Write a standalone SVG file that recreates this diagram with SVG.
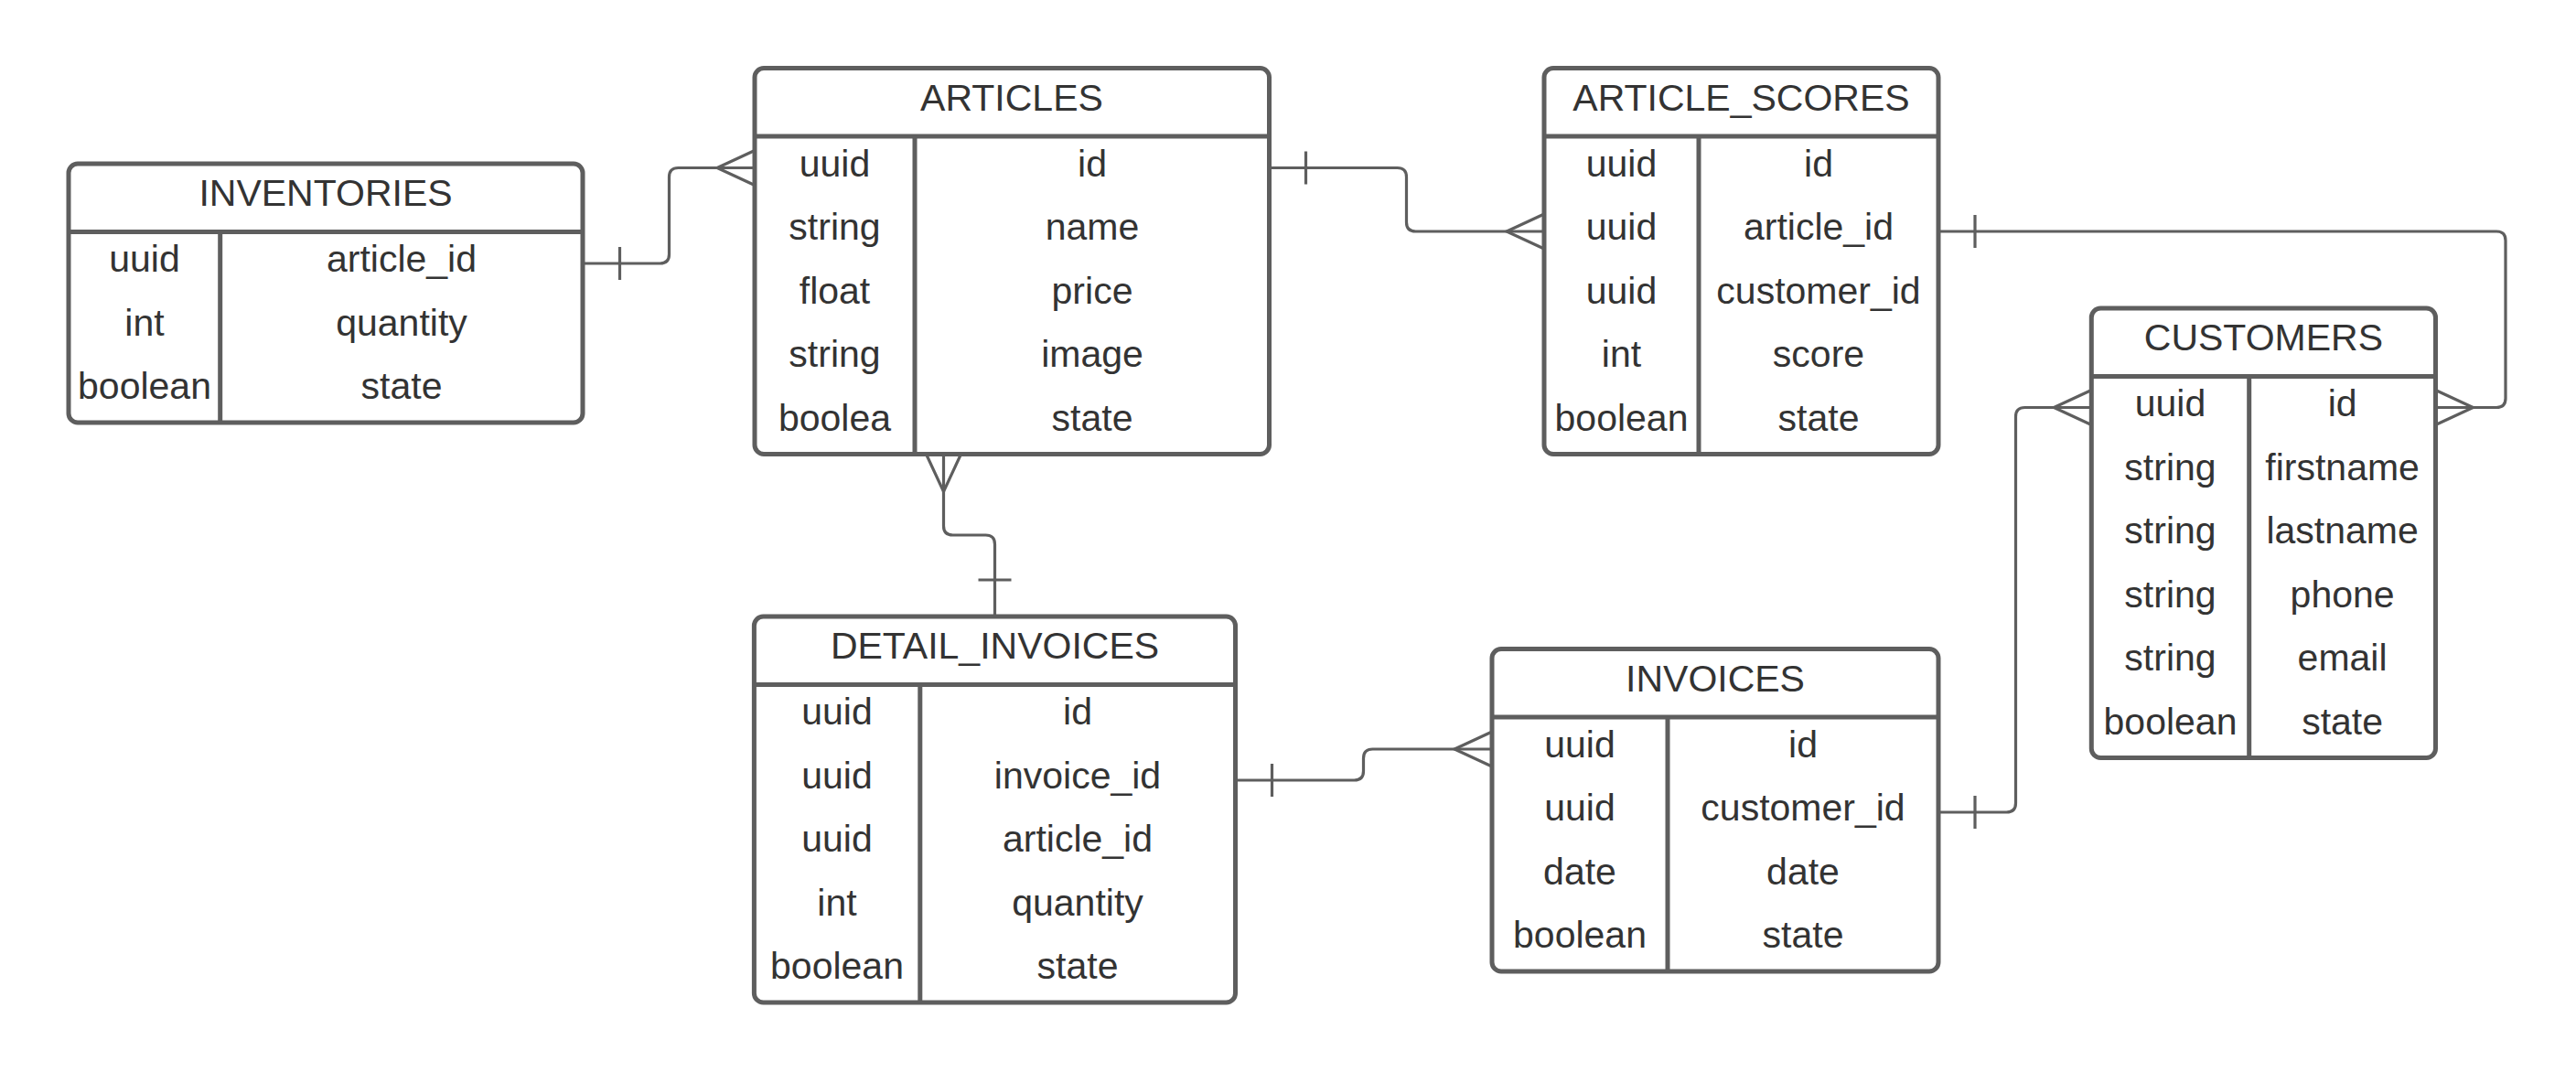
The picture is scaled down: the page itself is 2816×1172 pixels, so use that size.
<svg xmlns="http://www.w3.org/2000/svg" width="2816" height="1172" viewBox="0 0 2816 1172">
<style>
.box{fill:#ffffff;stroke:#5e5e5e;stroke-width:5}
.ln{stroke:#5e5e5e;stroke-width:5;fill:none}
.cn{stroke:#5e5e5e;stroke-width:3.2;fill:none}
.t{font-family:"Liberation Sans",Arial,sans-serif;font-size:41px;fill:#333333;text-anchor:middle}
</style>
<rect x="0" y="0" width="2816" height="1172" fill="#ffffff"/>
<g id="connectors">
  <!-- INVENTORIES -> ARTICLES -->
  <path class="cn" d="M637,288 H721.5 Q731.5,288 731.5,278 V193.5 Q731.5,183.5 741.5,183.5 H825"/>
  <path class="cn" d="M677.5,270 V306"/>
  <path class="cn" d="M825,164.5 L784,183.5 L825,202.5"/>
  <!-- ARTICLES -> ARTICLE_SCORES -->
  <path class="cn" d="M1387.5,183.5 H1527.5 Q1537.5,183.5 1537.5,193.5 V243 Q1537.5,253 1547.5,253 H1688"/>
  <path class="cn" d="M1427.5,165.5 V201.5"/>
  <path class="cn" d="M1688,234 L1647,253 L1688,272"/>
  <!-- ARTICLE_SCORES -> CUSTOMERS -->
  <path class="cn" d="M2119,253 H2729 Q2739,253 2739,263 V435.5 Q2739,445.5 2729,445.5 H2662.5"/>
  <path class="cn" d="M2159,235 V271"/>
  <path class="cn" d="M2662.5,426.5 L2703.5,445.5 L2662.5,464.5"/>
  <!-- ARTICLES -> DETAIL_INVOICES -->
  <path class="cn" d="M1031.5,496.5 V575 Q1031.5,585 1041.5,585 H1077.5 Q1087.5,585 1087.5,595 V674"/>
  <path class="cn" d="M1012.5,496.5 L1031.5,537.5 L1050.5,496.5"/>
  <path class="cn" d="M1069.5,634 H1105.5"/>
  <!-- DETAIL_INVOICES -> INVOICES -->
  <path class="cn" d="M1350.5,853 H1480.5 Q1490.5,853 1490.5,843 V829 Q1490.5,819 1500.5,819 H1631"/>
  <path class="cn" d="M1390.5,835 V871"/>
  <path class="cn" d="M1631,800 L1590,819 L1631,838"/>
  <!-- INVOICES -> CUSTOMERS -->
  <path class="cn" d="M2119,888 H2193.5 Q2203.5,888 2203.5,878 V455.5 Q2203.5,445.5 2213.5,445.5 H2286.3"/>
  <path class="cn" d="M2159,870 V906"/>
  <path class="cn" d="M2286.3,426.5 L2245.3,445.5 L2286.3,464.5"/>
</g>
<g id="inventories">
  <rect class="box" x="75" y="179" width="562" height="283" rx="10"/>
  <path class="ln" d="M75,253.5 H637 M240.7,253.5 V462"/>
  <text class="t" x="356" y="225">INVENTORIES</text>
  <text class="t" x="158" y="297">uuid</text><text class="t" x="439" y="297">article_id</text>
  <text class="t" x="158" y="367">int</text><text class="t" x="439" y="367">quantity</text>
  <text class="t" x="158" y="436">boolean</text><text class="t" x="439" y="436">state</text>
</g>
<g id="articles">
  <rect class="box" x="825" y="74.5" width="562.5" height="422" rx="10"/>
  <path class="ln" d="M825,149 H1387.5 M1000,149 V496.5"/>
  <text class="t" x="1106" y="120.5">ARTICLES</text>
  <text class="t" x="912.5" y="193">uuid</text><text class="t" x="1194" y="193">id</text>
  <text class="t" x="912.5" y="262">string</text><text class="t" x="1194" y="262">name</text>
  <text class="t" x="912.5" y="332">float</text><text class="t" x="1194" y="332">price</text>
  <text class="t" x="912.5" y="401">string</text><text class="t" x="1194" y="401">image</text>
  <text class="t" x="912.5" y="471">boolea</text><text class="t" x="1194" y="471">state</text>
</g>
<g id="article_scores">
  <rect class="box" x="1688" y="74.5" width="431" height="422" rx="10"/>
  <path class="ln" d="M1688,149 H2119 M1857,149 V496.5"/>
  <text class="t" x="1903.5" y="120.5">ARTICLE_SCORES</text>
  <text class="t" x="1772.5" y="193">uuid</text><text class="t" x="1988" y="193">id</text>
  <text class="t" x="1772.5" y="262">uuid</text><text class="t" x="1988" y="262">article_id</text>
  <text class="t" x="1772.5" y="332">uuid</text><text class="t" x="1988" y="332">customer_id</text>
  <text class="t" x="1772.5" y="401">int</text><text class="t" x="1988" y="401">score</text>
  <text class="t" x="1772.5" y="471">boolean</text><text class="t" x="1988" y="471">state</text>
</g>
<g id="customers">
  <rect class="box" x="2286.3" y="337" width="376.2" height="491.5" rx="10"/>
  <path class="ln" d="M2286.3,411.5 H2662.5 M2458.7,411.5 V828.5"/>
  <text class="t" x="2474.4" y="383">CUSTOMERS</text>
  <text class="t" x="2372.5" y="455">uuid</text><text class="t" x="2560.6" y="455">id</text>
  <text class="t" x="2372.5" y="525">string</text><text class="t" x="2560.6" y="525">firstname</text>
  <text class="t" x="2372.5" y="594">string</text><text class="t" x="2560.6" y="594">lastname</text>
  <text class="t" x="2372.5" y="664">string</text><text class="t" x="2560.6" y="664">phone</text>
  <text class="t" x="2372.5" y="733">string</text><text class="t" x="2560.6" y="733">email</text>
  <text class="t" x="2372.5" y="803">boolean</text><text class="t" x="2560.6" y="803">state</text>
</g>
<g id="detail_invoices">
  <rect class="box" x="824.4" y="674" width="526.1" height="422" rx="10"/>
  <path class="ln" d="M824.4,748.5 H1350.5 M1005.8,748.5 V1096"/>
  <text class="t" x="1087.5" y="720">DETAIL_INVOICES</text>
  <text class="t" x="915" y="792">uuid</text><text class="t" x="1178" y="792">id</text>
  <text class="t" x="915" y="862">uuid</text><text class="t" x="1178" y="862">invoice_id</text>
  <text class="t" x="915" y="931">uuid</text><text class="t" x="1178" y="931">article_id</text>
  <text class="t" x="915" y="1001">int</text><text class="t" x="1178" y="1001">quantity</text>
  <text class="t" x="915" y="1070">boolean</text><text class="t" x="1178" y="1070">state</text>
</g>
<g id="invoices">
  <rect class="box" x="1631" y="709.5" width="488" height="352.5" rx="10"/>
  <path class="ln" d="M1631,784 H2119 M1823,784 V1062"/>
  <text class="t" x="1875" y="755.5">INVOICES</text>
  <text class="t" x="1727" y="828">uuid</text><text class="t" x="1971" y="828">id</text>
  <text class="t" x="1727" y="897">uuid</text><text class="t" x="1971" y="897">customer_id</text>
  <text class="t" x="1727" y="967">date</text><text class="t" x="1971" y="967">date</text>
  <text class="t" x="1727" y="1036">boolean</text><text class="t" x="1971" y="1036">state</text>
</g>
</svg>
